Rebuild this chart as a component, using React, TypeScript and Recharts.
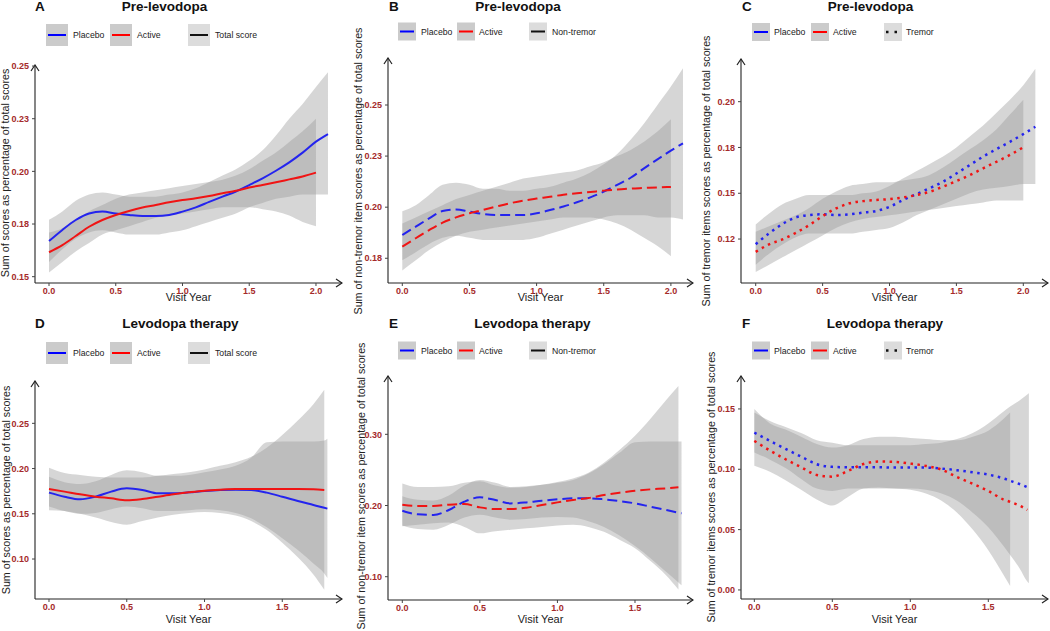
import React from 'react';
import { ComposedChart, Area, Line, XAxis, YAxis } from 'recharts';

const FONT = '"Liberation Sans", Arial, Helvetica, sans-serif';
const BLUE = '#2424ee';
const RED = '#f01414';
const BAND = '#999999';
const TICK_COLOR = '#a52a2a';

// ---------- Panel A: Pre-levodopa, total score ----------
const yearsA = [0, 0.1, 0.2, 0.3, 0.4, 0.5, 0.6, 0.7, 0.8, 0.9, 1, 1.1, 1.2, 1.3, 1.4, 1.5, 1.6, 1.7, 1.8, 1.9, 2, 2.09];
const placeboA = [0.1669, 0.1722, 0.1769, 0.18, 0.1809, 0.18, 0.1793, 0.1788, 0.1788, 0.1793, 0.1809, 0.1829, 0.1855, 0.188, 0.1904, 0.1935, 0.1967, 0.2003, 0.2043, 0.2089, 0.2141, 0.2177];
const activeA = [0.1616, 0.165, 0.1693, 0.1737, 0.1769, 0.1793, 0.1812, 0.1828, 0.184, 0.1853, 0.1864, 0.1872, 0.1883, 0.1896, 0.1908, 0.1923, 0.1935, 0.1948, 0.1962, 0.1976, 0.1994, null];
const placeboLoA = [0.157, 0.163, 0.168, 0.171, 0.172, 0.171, 0.17, 0.17, 0.17, 0.171, 0.172, 0.174, 0.176, 0.178, 0.18, 0.183, 0.185, 0.187, 0.188, 0.189, 0.189, 0.189];
const placeboHiA = [0.177, 0.181, 0.186, 0.189, 0.19, 0.189, 0.188, 0.188, 0.188, 0.189, 0.19, 0.192, 0.195, 0.198, 0.201, 0.205, 0.21, 0.217, 0.225, 0.232, 0.24, 0.247];
const activeLoA = [0.152, 0.157, 0.162, 0.166, 0.17, 0.172, 0.174, 0.176, 0.178, 0.179, 0.18, 0.181, 0.182, 0.183, 0.183, 0.183, 0.182, 0.181, 0.179, 0.176, 0.174, null];
const activeHiA = [0.171, 0.173, 0.177, 0.181, 0.184, 0.187, 0.189, 0.19, 0.191, 0.192, 0.193, 0.194, 0.195, 0.196, 0.198, 0.201, 0.205, 0.209, 0.214, 0.219, 0.225, null];

// ---------- Panel B: Pre-levodopa, non-tremor ----------
const yearsB = [0, 0.1, 0.2, 0.3, 0.4, 0.5, 0.6, 0.7, 0.8, 0.9, 1, 1.1, 1.2, 1.3, 1.4, 1.5, 1.6, 1.7, 1.8, 1.9, 2, 2.09];
const placeboB = [0.1864, 0.1905, 0.1945, 0.1981, 0.1989, 0.1978, 0.1967, 0.1962, 0.1962, 0.1962, 0.197, 0.1986, 0.2003, 0.2024, 0.2048, 0.2076, 0.2109, 0.2144, 0.219, 0.2234, 0.2277, 0.2312];
const activeB = [0.1807, 0.1848, 0.1888, 0.1924, 0.195, 0.197, 0.1986, 0.2003, 0.2019, 0.2032, 0.2042, 0.2051, 0.2061, 0.2068, 0.2074, 0.2081, 0.2086, 0.2091, 0.2094, 0.2097, 0.2099, null];
const placeboLoB = [0.174, 0.178, 0.182, 0.185, 0.186, 0.185, 0.184, 0.184, 0.184, 0.184, 0.185, 0.187, 0.189, 0.191, 0.193, 0.195, 0.196, 0.196, 0.196, 0.195, 0.195, 0.194];
const placeboHiB = [0.198, 0.201, 0.206, 0.211, 0.212, 0.211, 0.209, 0.209, 0.208, 0.208, 0.209, 0.21, 0.212, 0.214, 0.217, 0.221, 0.226, 0.233, 0.241, 0.25, 0.259, 0.268];
const activeLoB = [0.169, 0.174, 0.179, 0.183, 0.186, 0.188, 0.189, 0.19, 0.191, 0.192, 0.193, 0.194, 0.195, 0.195, 0.195, 0.194, 0.192, 0.189, 0.185, 0.181, 0.176, null];
const activeHiB = [0.192, 0.195, 0.198, 0.201, 0.204, 0.206, 0.208, 0.21, 0.212, 0.214, 0.215, 0.216, 0.217, 0.218, 0.22, 0.222, 0.225, 0.228, 0.232, 0.237, 0.243, null];

// ---------- Panel C: Pre-levodopa, tremor ----------
const yearsC = [0, 0.1, 0.2, 0.3, 0.4, 0.5, 0.6, 0.7, 0.8, 0.9, 1, 1.1, 1.2, 1.3, 1.4, 1.5, 1.6, 1.7, 1.8, 1.9, 2, 2.09];
const placeboC = [0.1222, 0.1281, 0.1332, 0.1368, 0.1381, 0.1385, 0.1381, 0.1385, 0.1394, 0.1403, 0.1426, 0.1463, 0.1495, 0.1528, 0.1563, 0.1608, 0.1654, 0.17, 0.1741, 0.1781, 0.1823, 0.1863];
const activeC = [0.118, 0.1221, 0.1248, 0.1284, 0.1326, 0.1375, 0.1417, 0.1445, 0.1457, 0.1463, 0.1468, 0.1477, 0.149, 0.1508, 0.1536, 0.1567, 0.1599, 0.1636, 0.1672, 0.1709, 0.1751, null];
const placeboLoC = [0.111, 0.117, 0.122, 0.126, 0.128, 0.128, 0.128, 0.128, 0.129, 0.13, 0.131, 0.134, 0.138, 0.141, 0.144, 0.147, 0.15, 0.152, 0.153, 0.154, 0.155, 0.155];
const placeboHiC = [0.133, 0.139, 0.144, 0.147, 0.149, 0.149, 0.149, 0.149, 0.15, 0.151, 0.154, 0.158, 0.162, 0.166, 0.17, 0.175, 0.181, 0.187, 0.194, 0.201, 0.209, 0.218];
const activeLoC = [0.107, 0.111, 0.115, 0.119, 0.123, 0.127, 0.131, 0.134, 0.136, 0.137, 0.138, 0.139, 0.14, 0.141, 0.142, 0.143, 0.144, 0.145, 0.146, 0.146, 0.146, null];
const activeHiC = [0.129, 0.132, 0.135, 0.138, 0.142, 0.147, 0.151, 0.154, 0.155, 0.156, 0.156, 0.157, 0.158, 0.16, 0.164, 0.169, 0.174, 0.179, 0.185, 0.193, 0.201, null];

// ---------- Panel D: Levodopa therapy, total score ----------
const yearsD = [0, 0.1, 0.2, 0.3, 0.4, 0.5, 0.6, 0.7, 0.8, 0.9, 1, 1.1, 1.2, 1.3, 1.4, 1.5, 1.6, 1.7, 1.77, 1.79];
const placeboD = [0.1734, 0.1689, 0.166, 0.1689, 0.1745, 0.1781, 0.1763, 0.1726, 0.1726, 0.1737, 0.1752, 0.1763, 0.1767, 0.1763, 0.1734, 0.1689, 0.1641, 0.1597, 0.1566, 0.1557];
const activeD = [0.1774, 0.1745, 0.1715, 0.1689, 0.1671, 0.1649, 0.1663, 0.1689, 0.1715, 0.1737, 0.1756, 0.1767, 0.1774, 0.1774, 0.1774, 0.1774, 0.1774, 0.177, 0.1764, null];
const placeboLoD = [0.158, 0.153, 0.15, 0.151, 0.155, 0.158, 0.156, 0.153, 0.153, 0.154, 0.155, 0.154, 0.151, 0.145, 0.135, 0.123, 0.11, 0.095, 0.084, 0.079];
const placeboHiD = [0.191, 0.185, 0.183, 0.186, 0.193, 0.198, 0.196, 0.192, 0.192, 0.193, 0.196, 0.199, 0.203, 0.212, 0.229, 0.23, 0.23, 0.23, 0.231, 0.233];
const activeLoD = [0.154, 0.153, 0.15, 0.146, 0.141, 0.138, 0.142, 0.146, 0.149, 0.151, 0.152, 0.151, 0.148, 0.142, 0.132, 0.118, 0.102, 0.083, 0.066, null];
const activeHiD = [0.201, 0.195, 0.193, 0.191, 0.19, 0.19, 0.19, 0.192, 0.194, 0.196, 0.199, 0.203, 0.207, 0.213, 0.223, 0.237, 0.253, 0.271, 0.287, null];

// ---------- Panel E: Levodopa therapy, non-tremor ----------
const yearsE = [0, 0.1, 0.2, 0.3, 0.4, 0.5, 0.6, 0.7, 0.8, 0.9, 1, 1.1, 1.2, 1.3, 1.4, 1.5, 1.6, 1.7, 1.78, 1.8];
const placeboE = [0.1927, 0.1876, 0.1867, 0.1937, 0.2054, 0.2115, 0.2077, 0.203, 0.2044, 0.2068, 0.2087, 0.2101, 0.2101, 0.2087, 0.2063, 0.203, 0.1984, 0.1937, 0.1899, 0.189];
const activeE = [0.2012, 0.1993, 0.1993, 0.2012, 0.2021, 0.1974, 0.1951, 0.1951, 0.197, 0.2007, 0.2044, 0.2077, 0.2105, 0.2147, 0.218, 0.2208, 0.2227, 0.2241, 0.2255, null];
const placeboLoE = [0.172, 0.167, 0.166, 0.173, 0.183, 0.187, 0.183, 0.18, 0.181, 0.183, 0.184, 0.183, 0.178, 0.17, 0.158, 0.143, 0.126, 0.107, 0.092, 0.088];
const placeboHiE = [0.213, 0.208, 0.207, 0.214, 0.228, 0.236, 0.232, 0.226, 0.227, 0.229, 0.232, 0.236, 0.245, 0.258, 0.274, 0.289, 0.29, 0.29, 0.29, 0.29];
const activeLoE = [0.171, 0.173, 0.175, 0.176, 0.17, 0.161, 0.164, 0.166, 0.168, 0.17, 0.172, 0.173, 0.17, 0.163, 0.152, 0.14, 0.122, 0.102, 0.082, null];
const activeHiE = [0.231, 0.226, 0.226, 0.227, 0.232, 0.234, 0.228, 0.225, 0.226, 0.229, 0.233, 0.238, 0.246, 0.26, 0.278, 0.298, 0.322, 0.348, 0.368, null];

// ---------- Panel F: Levodopa therapy, tremor ----------
const yearsF = [0, 0.1, 0.2, 0.3, 0.4, 0.5, 0.6, 0.7, 0.8, 0.9, 1, 1.1, 1.2, 1.3, 1.4, 1.5, 1.6, 1.64, 1.7, 1.75, 1.76, 1.77];
const placeboF = [0.1304, 0.1235, 0.1169, 0.1105, 0.1042, 0.102, 0.1017, 0.1017, 0.1017, 0.1014, 0.1014, 0.1014, 0.1006, 0.0992, 0.0975, 0.0956, 0.0923, 0.0905, 0.0878, 0.0852, 0.0847, 0.0843];
const activeF = [0.1235, 0.1155, 0.1083, 0.1017, 0.0953, 0.0939, 0.0986, 0.1044, 0.1064, 0.1061, 0.1047, 0.1028, 0.0997, 0.0935, 0.088, 0.082, 0.0748, 0.073, 0.0699, 0.0663, null, null];
const placeboLoF = [0.114, 0.108, 0.101, 0.092, 0.084, 0.082, 0.084, 0.084, 0.084, 0.084, 0.084, 0.083, 0.08, 0.074, 0.064, 0.052, 0.036, 0.029, 0.018, 0.007, 0.0055, null];
const placeboHiF = [0.147, 0.14, 0.135, 0.13, 0.124, 0.122, 0.12, 0.12, 0.12, 0.12, 0.12, 0.121, 0.122, 0.125, 0.13, 0.138, 0.148, 0.152, 0.157, 0.162, 0.163, null];
const activeLoF = [0.103, 0.098, 0.091, 0.083, 0.075, 0.07, 0.077, 0.084, 0.085, 0.084, 0.083, 0.08, 0.074, 0.064, 0.05, 0.033, 0.012, 0.0033, null, null, null, null];
const activeHiF = [0.15, 0.138, 0.133, 0.127, 0.121, 0.118, 0.12, 0.125, 0.127, 0.127, 0.126, 0.125, 0.124, 0.124, 0.127, 0.132, 0.142, 0.147, null, null, null, null];

// ---------- Axis ticks ----------
const xTicks2 = [0, 0.5, 1, 1.5, 2];
const xTicks15 = [0, 0.5, 1, 1.5];
const yTicksA = [0.15, 0.175, 0.2, 0.225, 0.25];
const yLabelsA = ['0.15', '0.18', '0.20', '0.23', '0.25'];
const yTicksB = [0.175, 0.2, 0.225, 0.25];
const yLabelsB = ['0.18', '0.20', '0.23', '0.25'];
const yTicksC = [0.125, 0.15, 0.175, 0.2];
const yLabelsC = ['0.12', '0.15', '0.18', '0.20'];
const yTicksD = [0.1, 0.15, 0.2, 0.25];
const yLabelsD = ['0.10', '0.15', '0.20', '0.25'];
const yTicksE = [0.1, 0.2, 0.3];
const yLabelsE = ['0.10', '0.20', '0.30'];
const yTicksF = [0, 0.05, 0.1, 0.15];
const yLabelsF = ['0.00', '0.05', '0.10', '0.15'];

// ---------- Text ----------
const seriesNames = ['Placebo', 'Active'];
const yTitleTotal = 'Sum of scores as percentage of total scores';
const yTitleNonTremor = 'Sum of non-tremor item scores as percentage of total scores';
const yTitleTremor = 'Sum of tremor items scores as percentage of total scores';
const xTitle = 'Visit Year';

type Num = number | null;

function makeRows(years: number[], p: Num[], a: Num[], pLo: Num[], pHi: Num[], aLo: Num[], aHi: Num[]) {
  return years.map((x, i) => ({
    x,
    placebo: p[i],
    active: a[i],
    placeboBand: pLo[i] == null ? null : [pLo[i], pHi[i]],
    activeBand: aLo[i] == null ? null : [aLo[i], aHi[i]],
  }));
}

const panels = [
  {
    id: 'A', title: 'Pre-levodopa', kind: 'Total score', style: 'solid',
    rows: makeRows(yearsA, placeboA, activeA, placeboLoA, placeboHiA, activeLoA, activeHiA),
    L: 35, R: 342, T: 65, B: 283, xDomain: [-0.105, 2.195], yDomain: [0.147, 0.2505],
    xTicks: xTicks2, yTicks: yTicksA, yLabels: yLabelsA, yTitle: yTitleTotal,
    letterX: 35, titleY: 10.5, titleCx: 164.5, yTitleX: 9, yTitleCy: 173, xTitleY: 301,
    leg: { cy: 35, size: 22, xs: [46, 110, 188], txs: [73, 137, 215] },
  },
  {
    id: 'B', title: 'Pre-levodopa', kind: 'Non-tremor', style: 'dashed',
    rows: makeRows(yearsB, placeboB, activeB, placeboLoB, placeboHiB, activeLoB, activeHiB),
    L: 388, R: 693, T: 58, B: 283, xDomain: [-0.1065, 2.1646], yDomain: [0.1629, 0.273],
    xTicks: xTicks2, yTicks: yTicksB, yLabels: yLabelsB, yTitle: yTitleNonTremor,
    letterX: 389, titleY: 10.5, titleCx: 518, yTitleX: 362, yTitleCy: 171, xTitleY: 301,
    leg: { cy: 31.5, size: 18, xs: [398, 457, 529], txs: [421, 479, 552] },
  },
  {
    id: 'C', title: 'Pre-levodopa', kind: 'Tremor', style: 'dotted',
    rows: makeRows(yearsC, placeboC, activeC, placeboLoC, placeboHiC, activeLoC, activeHiC),
    L: 741, R: 1048, T: 59, B: 283, xDomain: [-0.11, 2.1846], yDomain: [0.101, 0.2233],
    xTicks: xTicks2, yTicks: yTicksC, yLabels: yLabelsC, yTitle: yTitleTremor,
    letterX: 742, titleY: 10.5, titleCx: 870.5, yTitleX: 710, yTitleCy: 171, xTitleY: 301,
    leg: { cy: 32, size: 18, xs: [752, 811, 884], txs: [774, 833, 906] },
  },
  {
    id: 'D', title: 'Levodopa therapy', kind: 'Total score', style: 'solid',
    rows: makeRows(yearsD, placeboD, activeD, placeboLoD, placeboHiD, activeLoD, activeHiD),
    L: 35, R: 342, T: 381, B: 599, xDomain: [-0.09, 1.884], yDomain: [0.0558, 0.2968],
    xTicks: xTicks15, yTicks: yTicksD, yLabels: yLabelsD, yTitle: yTitleTotal,
    letterX: 35, titleY: 328, titleCx: 180.5, yTitleX: 10, yTitleCy: 490, xTitleY: 623,
    leg: { cy: 353, size: 22, xs: [46, 110, 188], txs: [73, 137, 215] },
  },
  {
    id: 'E', title: 'Levodopa therapy', kind: 'Non-tremor', style: 'dashed',
    rows: makeRows(yearsE, placeboE, activeE, placeboLoE, placeboHiE, activeLoE, activeHiE),
    L: 388, R: 693, T: 376, B: 600, xDomain: [-0.0922, 1.874], yDomain: [0.0673, 0.3819],
    xTicks: xTicks15, yTicks: yTicksE, yLabels: yLabelsE, yTitle: yTitleNonTremor,
    letterX: 389, titleY: 328, titleCx: 532.5, yTitleX: 365, yTitleCy: 486, xTitleY: 623,
    leg: { cy: 350.5, size: 18, xs: [398, 457, 529], txs: [421, 479, 552] },
  },
  {
    id: 'F', title: 'Levodopa therapy', kind: 'Tremor', style: 'dotted',
    rows: makeRows(yearsF, placeboF, activeF, placeboLoF, placeboHiF, activeLoF, activeHiF),
    L: 741, R: 1048, T: 376, B: 599, xDomain: [-0.0855, 1.8827], yDomain: [-0.0075, 0.1773],
    xTicks: xTicks15, yTicks: yTicksF, yLabels: yLabelsF, yTitle: yTitleTremor,
    letterX: 742, titleY: 328, titleCx: 885, yTitleX: 715, yTitleCy: 487, xTitleY: 623,
    leg: { cy: 350.5, size: 18, xs: [752, 811, 884], txs: [774, 833, 906] },
  },
];

const W = 1050;
const H = 631;
const YW = 30;
const XH = 20;

function lineDash(style: string) {
  if (style === 'dashed') return { dash: '10 5', width: 2 };
  if (style === 'dotted') return { dash: '2.5 4.5', width: 2.5 };
  return { dash: undefined, width: 2 };
}

function Panel({ p }: { p: any }) {
  const ls = lineDash(p.style);
  const tickStyle = { fill: TICK_COLOR, fontSize: 9, fontWeight: 'bold', fontFamily: FONT };
  const axisLineX = { stroke: '#222', strokeWidth: 1.1, markerEnd: 'url(#axisArrow)' };
  const axisLineY = { stroke: '#222', strokeWidth: 1.1, markerStart: 'url(#axisArrow)' };
  const fmtY = (v: number) => {
    const i = p.yTicks.findIndex((t: number) => Math.abs(t - v) < 1e-9);
    return i >= 0 ? p.yLabels[i] : '';
  };
  return (
    <div style={{ position: 'absolute', left: 0, top: 0 }}>
      <ComposedChart
        width={W}
        height={H}
        data={p.rows}
        margin={{ top: p.T, left: p.L - YW, right: W - p.R, bottom: H - p.B - XH }}
      >
        <XAxis
          type="number"
          dataKey="x"
          domain={p.xDomain}
          ticks={p.xTicks}
          interval={0}
          allowDataOverflow
          height={XH}
          tickFormatter={(v: number) => Number(v).toFixed(1)}
          tick={tickStyle}
          tickSize={3}
          tickMargin={2}
          tickLine={{ stroke: '#444' }}
          axisLine={axisLineX}
        />
        <YAxis
          type="number"
          domain={p.yDomain}
          ticks={p.yTicks}
          interval={0}
          allowDataOverflow
          width={YW}
          tickFormatter={fmtY}
          tick={tickStyle}
          tickSize={3}
          tickMargin={3}
          tickLine={{ stroke: '#444' }}
          axisLine={axisLineY}
        />
        <Area type="monotone" dataKey="placeboBand" stroke="none" fill={BAND} fillOpacity={0.4} dot={false} activeDot={false} isAnimationActive={false} />
        <Area type="monotone" dataKey="activeBand" stroke="none" fill={BAND} fillOpacity={0.4} dot={false} activeDot={false} isAnimationActive={false} />
        <Line type="monotone" dataKey="placebo" stroke={BLUE} strokeWidth={ls.width} strokeDasharray={ls.dash} dot={false} activeDot={false} isAnimationActive={false} />
        <Line type="monotone" dataKey="active" stroke={RED} strokeWidth={ls.width} strokeDasharray={ls.dash} dot={false} activeDot={false} isAnimationActive={false} />
      </ComposedChart>
    </div>
  );
}

function Overlay() {
  return (
    <svg width={W} height={H} style={{ position: 'absolute', left: 0, top: 0, pointerEvents: 'none' }}>
      <defs>
        <marker id="axisArrow" viewBox="0 0 8 10" refX="7" refY="5" markerWidth="8" markerHeight="10" markerUnits="userSpaceOnUse" orient="auto-start-reverse">
          <path d="M1,1 L7,5 L1,9" fill="none" stroke="#222" strokeWidth="1.2" />
        </marker>
      </defs>
      {panels.map((p) => {
        const lg = p.leg;
        const half = lg.size / 2;
        const labels = [seriesNames[0], seriesNames[1], p.kind];
        const colors = [BLUE, RED, '#111'];
        return (
          <g key={p.id} fontFamily={FONT}>
            <text x={p.letterX} y={p.titleY} fontSize={13.5} fontWeight="bold" fill="#111">{p.id}</text>
            <text x={p.titleCx} y={p.titleY} fontSize={13.5} fontWeight="bold" fill="#111" textAnchor="middle">{p.title}</text>
            {lg.xs.map((kx: number, i: number) => (
              <g key={i}>
                <rect x={kx} y={lg.cy - half} width={lg.size} height={lg.size} fill={i < 2 ? '#cbcbcb' : '#dcdcdc'} />
                {i === 2 && p.style === 'dotted' ? (
                  <line x1={kx + 2} x2={kx + lg.size - 2} y1={lg.cy} y2={lg.cy} stroke={colors[i]} strokeWidth={2.5} strokeDasharray="2.5 6" />
                ) : (
                  <line x1={kx + 2} x2={kx + lg.size - 2} y1={lg.cy} y2={lg.cy} stroke={i === 0 ? '#0000ff' : i === 1 ? '#ff0000' : '#111'} strokeWidth={2} />
                )}
                <text x={lg.txs[i]} y={lg.cy} dy="0.35em" fontSize={8.7} fill="#222">{labels[i]}</text>
              </g>
            ))}
            <text
              x={p.yTitleX}
              y={p.yTitleCy}
              fontSize={10.7}
              fill="#222"
              textAnchor="middle"
              transform={`rotate(-90 ${p.yTitleX} ${p.yTitleCy})`}
            >
              {p.yTitle}
            </text>
            <text x={(p.L + p.R) / 2} y={p.xTitleY} fontSize={11} fill="#222" textAnchor="middle">{xTitle}</text>
          </g>
        );
      })}
    </svg>
  );
}

export default function App() {
  return (
    <div style={{ position: 'absolute', left: 0, top: 0, width: W, height: H, background: '#fff', overflow: 'hidden' }}>
      {panels.map((p) => (
        <Panel key={p.id} p={p} />
      ))}
      <Overlay />
    </div>
  );
}
